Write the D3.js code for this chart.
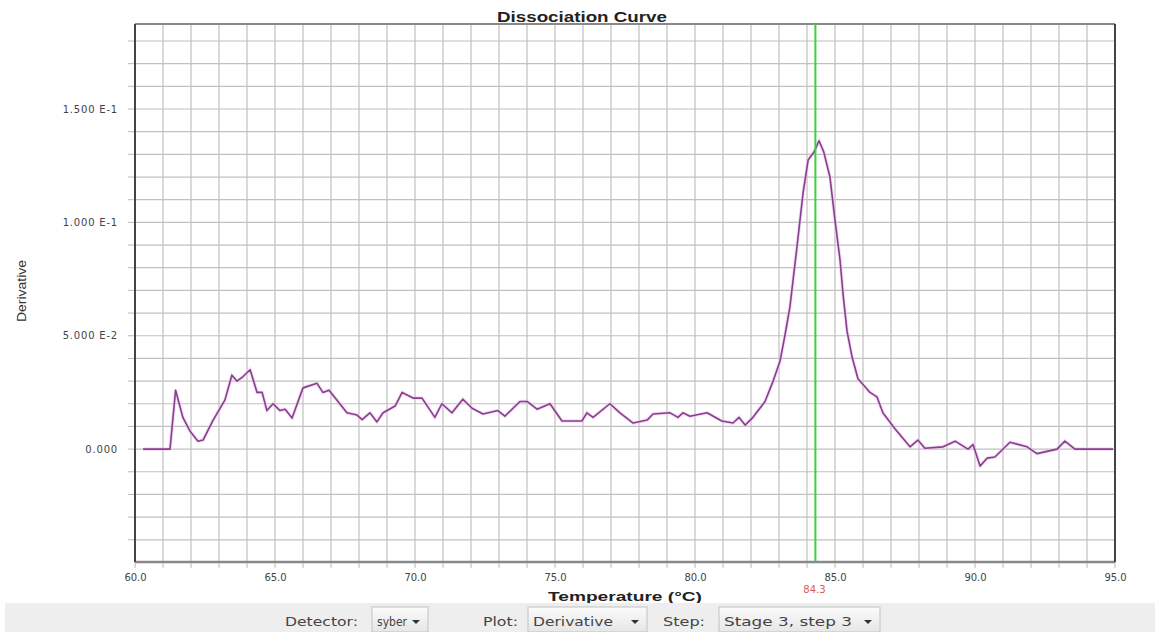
<!DOCTYPE html>
<html><head><meta charset="utf-8">
<script src="https://cdn.jsdelivr.net/npm/d3@7"></script>
<style>body{margin:0;background:#fff;} svg{display:block;}</style>
</head><body><svg id="c" width="1155" height="632"></svg>
<script>
// ---- data ----
const temps = [60.29,61.25,61.45,61.6,61.71,61.96,62.25,62.43,62.79,63.21,63.46,63.64,63.86,64.11,64.36,64.54,64.71,64.93,65.18,65.36,65.61,66.0,66.5,66.71,66.93,67.57,67.93,68.11,68.39,68.64,68.86,69.29,69.54,69.93,70.25,70.71,70.96,71.32,71.71,72.04,72.43,72.96,73.21,73.75,74.0,74.36,74.82,75.25,75.96,76.14,76.36,76.96,77.32,77.79,78.29,78.5,79.11,79.39,79.57,79.82,80.43,80.96,81.36,81.57,81.79,82.07,82.5,82.79,83.04,83.21,83.39,83.64,83.86,84.04,84.25,84.43,84.6,84.82,85.0,85.18,85.29,85.43,85.61,85.82,86.25,86.5,86.71,87.14,87.68,87.96,88.21,88.86,89.29,89.75,89.93,90.18,90.43,90.71,91.25,91.86,92.21,92.93,93.21,93.57,94.93];
const derivs = [0,0,0.026,0.019,0.014,0.008,0.0035,0.004,0.0128,0.0216,0.0326,0.030,0.032,0.035,0.025,0.025,0.017,0.020,0.017,0.0176,0.0137,0.027,0.029,0.025,0.026,0.016,0.015,0.013,0.016,0.012,0.016,0.019,0.025,0.0225,0.0225,0.014,0.020,0.016,0.022,0.018,0.0155,0.017,0.0145,0.021,0.021,0.0176,0.020,0.0124,0.0124,0.016,0.014,0.020,0.016,0.0115,0.0128,0.0155,0.016,0.014,0.016,0.0145,0.016,0.0124,0.0115,0.014,0.0106,0.014,0.021,0.030,0.039,0.050,0.0627,0.089,0.113,0.1275,0.131,0.136,0.131,0.120,0.101,0.0834,0.068,0.052,0.0406,0.031,0.025,0.023,0.016,0.009,0.001,0.004,0.0004,0.001,0.0035,0.0,0.002,-0.0075,-0.004,-0.0035,0.003,0.001,-0.002,0.0,0.0035,0,0];
const xTicks = [60,65,70,75,80,85,90,95];
const yTicks = [0,0.05,0.1,0.15];
const yTickLabels = ["0.000","5.000 E-2","1.000 E-1","1.500 E-1"];
const meltTemp = 84.3;
const controlLabels = ["Detector:","Plot:","Step:"];
const controlValues = ["syber","Derivative","Stage 3, step 3"];

// ---- layout ----
const svg = d3.select("#c");
const L = 135, R = 1115, T = 24, B = 562;
const x = d3.scaleLinear().domain([60,95]).range([L,R]);
const y = d3.scaleLinear().domain([-0.0498,0.1875]).range([B,T]);

svg.append("rect").attr("width",1155).attr("height",632).attr("fill","#fff");

// grid
const g = svg.append("g");
g.selectAll(".vg").data(d3.range(61,95,1)).join("line")
  .attr("x1",d=>x(d)).attr("x2",d=>x(d)).attr("y1",T).attr("y2",B)
  .attr("stroke","#c0c0c0").attr("stroke-width",1.2);
g.selectAll(".hg").data(d3.range(-4,19,1).map(d=>d/100)).join("line")
  .attr("x1",L).attr("x2",R).attr("y1",d=>y(d)).attr("y2",d=>y(d))
  .attr("stroke","#c0c0c0").attr("stroke-width",1.2);

// minor ticks
g.selectAll(".yt").data(d3.range(-4,19,1).map(d=>d/100)).join("line")
  .attr("x1",L-7).attr("x2",L).attr("y1",d=>y(d)).attr("y2",d=>y(d))
  .attr("stroke","#bbb");
g.selectAll(".xt").data(d3.range(60,96,1)).join("line")
  .attr("x1",d=>x(d)).attr("x2",d=>x(d)).attr("y1",B).attr("y2",B+6)
  .attr("stroke","#bbb");

// frame
svg.append("line").attr("x1",L).attr("x2",R).attr("y1",T).attr("y2",T).attr("stroke","#888").attr("stroke-width",2);
svg.append("line").attr("x1",L).attr("x2",R).attr("y1",B).attr("y2",B).attr("stroke","#888").attr("stroke-width",2.5);
svg.append("line").attr("x1",L).attr("x2",L).attr("y1",T).attr("y2",B).attr("stroke","#444").attr("stroke-width",2);
svg.append("line").attr("x1",R).attr("x2",R).attr("y1",T).attr("y2",B).attr("stroke","#444").attr("stroke-width",2);

// axes labels via d3 axes
const xAxis = svg.append("g").attr("transform",`translate(0,${B})`)
  .call(d3.axisBottom(x).tickValues(xTicks).tickFormat(d3.format(".1f")).tickSize(0).tickPadding(12));
xAxis.select(".domain").remove();
xAxis.selectAll("text").attr("font-family","DejaVu Sans").attr("font-size",10).attr("fill","#444");

const yAxis = svg.append("g").attr("transform",`translate(${L},0)`)
  .call(d3.axisLeft(y).tickValues(yTicks).tickFormat((d,i)=>yTickLabels[i]).tickSize(0).tickPadding(17));
yAxis.select(".domain").remove();
yAxis.selectAll("text").attr("font-family","DejaVu Sans").attr("font-size",10).attr("fill","#444")
  .style("letter-spacing","0.8px");

// curve
const line = d3.line().x((d,i)=>x(temps[i])).y(d=>y(d));
svg.append("path").datum(derivs).attr("d",line).attr("fill","none")
  .attr("stroke","#e9c6ec").attr("stroke-width",3.5).attr("opacity",0.6);
svg.append("path").datum(derivs).attr("d",line).attr("fill","none")
  .attr("stroke","#8a3d8e").attr("stroke-width",1.6).attr("stroke-linejoin","round");

// melt line
svg.append("line").attr("x1",x(meltTemp)).attr("x2",x(meltTemp)).attr("y1",T).attr("y2",B)
  .attr("stroke","#3bd23b").attr("stroke-width",2);
svg.append("text").attr("x",x(meltTemp)-1).attr("y",593).attr("text-anchor","middle")
  .attr("font-family","DejaVu Sans").attr("font-size",10).attr("fill","#d65a5a").text(meltTemp.toFixed(1));

// titles
svg.append("text").attr("x",582).attr("y",22).attr("text-anchor","middle")
  .attr("font-family","Liberation Sans").attr("font-weight","bold").attr("font-size",15).attr("fill","#222")
  .attr("textLength",170).attr("lengthAdjust","spacingAndGlyphs").text("Dissociation Curve");
svg.append("text").attr("x",625).attr("y",601).attr("text-anchor","middle")
  .attr("font-family","Liberation Sans").attr("font-weight","bold").attr("font-size",13).attr("fill","#222")
  .attr("textLength",154).attr("lengthAdjust","spacingAndGlyphs").text("Temperature (°C)");
svg.append("text").attr("transform","translate(26,291) rotate(-90)").attr("text-anchor","middle")
  .attr("font-family","Liberation Sans").attr("font-size",13).attr("fill","#333")
  .attr("textLength",62).attr("lengthAdjust","spacingAndGlyphs").text("Derivative");

// control bar
svg.append("rect").attr("x",5).attr("y",603).attr("width",1150).attr("height",29).attr("fill","#eeeeee");
const ctl = [
  {lx:285, lw:73, bx:372, bw:56, tw:30},
  {lx:483, lw:35, bx:528, bw:119, tw:80},
  {lx:663, lw:42, bx:719, bw:161, tw:128}
];
const grad = svg.append("defs").append("linearGradient").attr("id","bg").attr("x1",0).attr("x2",0).attr("y1",0).attr("y2",1);
grad.append("stop").attr("offset","0%").attr("stop-color","#fbfbfb");
grad.append("stop").attr("offset","100%").attr("stop-color","#e6e6e6");
controlLabels.forEach((lab,i)=>{
  const c = ctl[i];
  svg.append("text").attr("x",c.lx).attr("y",626)
    .attr("font-family","DejaVu Sans").attr("font-size",12).attr("fill","#444")
    .attr("textLength",c.lw).attr("lengthAdjust","spacingAndGlyphs").text(lab);
  svg.append("rect").attr("x",c.bx).attr("y",607).attr("width",c.bw).attr("height",25)
    .attr("fill","url(#bg)").attr("stroke","#c2c2c2");
  svg.append("text").attr("x",c.bx+5).attr("y",626)
    .attr("font-family","DejaVu Sans").attr("font-size",12).attr("fill","#444")
    .attr("textLength",c.tw).attr("lengthAdjust","spacingAndGlyphs").text(controlValues[i]);
  const ax = c.bx+c.bw-12;
  svg.append("path").attr("d",`M${ax-4},620 L${ax+4},620 L${ax},624 Z`).attr("fill","#333");
});
</script></body></html>
